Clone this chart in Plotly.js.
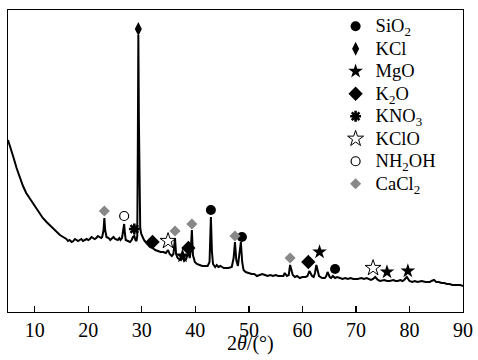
<!DOCTYPE html>
<html>
<head>
<meta charset="utf-8">
<script src="https://cdn.plot.ly/plotly-3.0.1.min.js"></script>
<style>html,body{margin:0;padding:0;background:#fff;}#chart{width:478px;height:360px;}</style>
</head>
<body>
<div id="chart"></div>
<script>
// XRD pattern (2θ in degrees, intensity in arbitrary units)
const twoTheta = [5.0,5.5,6.0,6.6,7.2,7.8,8.4,9.0,9.7,10.3,10.9,11.5,12.2,12.8,13.4,14.0,14.7,15.3,15.9,16.2,16.5,16.9,17.2,17.5,17.8,18.1,18.4,18.7,19.0,19.3,19.7,20.0,20.3,20.6,20.9,21.2,21.5,21.8,22.1,22.4,22.6,22.85,23.0,23.15,23.4,23.8,24.1,24.4,24.7,25.0,25.5,25.8,26.0,26.3,26.5,26.7,26.85,27.0,27.4,27.8,28.1,28.35,28.6,28.8,29.0,29.15,29.25,29.35,29.45,29.55,29.7,29.9,30.1,30.4,30.7,31.0,31.5,32.0,32.5,33.0,33.5,34.0,34.5,34.9,35.2,35.6,35.9,36.2,36.4,36.7,37.0,37.3,37.6,37.9,38.3,38.7,38.95,39.15,39.35,39.55,39.9,40.3,40.8,41.3,41.8,42.3,42.65,42.9,43.1,43.3,43.7,44.0,44.3,44.7,45.0,45.3,45.6,46.2,46.8,47.15,47.4,47.65,47.95,48.2,48.5,48.75,49.0,49.4,50.0,50.5,51.0,51.5,52.0,52.5,53.0,53.5,54.0,54.5,55.0,55.5,56.0,56.45,56.7,57.1,57.45,57.7,58.2,58.6,59.0,59.5,60.0,60.6,60.95,61.3,61.8,62.1,62.35,62.6,63.1,63.7,64.2,64.45,64.7,65.1,65.35,65.7,66.1,66.5,67.0,67.5,68.0,68.5,69.0,69.5,70.3,71.0,71.5,72.0,72.8,73.2,73.6,74.1,74.5,75.3,75.8,76.3,77.0,77.4,77.8,78.3,78.7,79.0,79.5,80.0,80.5,81.0,81.5,82.3,83.0,83.5,83.8,84.1,84.6,85.0,85.5,86.0,86.5,87.0,87.5,88.0,88.5,89.0,89.5,90.0];
const intensity = [172,164,155,144,134,126,119,114,109,104,99,94,90,87,84,80,77,75,73,71,72,70,71,73,72,71,72,73,71,72,73,72,73,75,74,73,74,76,75,74,75,82,94,82,75,74,72,74,75,73,72,74,72,74,80,88,78,72,71,70,72,75,76,72,71,76,162,277,192,102,84,78,75,72,70,68,65,64,62,61,60,60,59,62,58,56,58,74,58,54,53,52,55,51,53,60,54,62,82,57,50,48,47,46,46,46,50,95,60,48,45,47,45,46,45,44,44,44,45,54,70,52,46,56,70,50,42,40,39,38,38,36,37,38,37,36,37,36,37,36,36,36,39,36,37,47,37,35,36,34,35,35,36,41,36,35,39,47,36,34,34,36,40,35,34,36,34,35,34,33,34,33,34,33,33,34,33,34,32,33,35,32,31,32,31,31,32,31,31,32,31,32,35,31,30,31,30,31,30,30,30,31,32,30,30,29,29,28,28,27,27,27,27,26,26,26];

// Phase markers above the peaks
const sio2X = [42.9, 48.7, 66.1],            sio2Y = [102, 75, 43];
const kclX = [29.35],                        kclY = [283];
const mgoX = [37.6, 63.2, 75.8, 79.7],       mgoY = [56, 60, 40, 41];
const k2oX = [32.0, 38.7, 61.1],             k2oY = [70, 64, 50];
const kno3X = [28.6],                        kno3Y = [83];
const kcloX = [34.9, 73.2],                  kcloY = [71, 44];
const nh2ohX = [26.7],                       nh2ohY = [96];
const cacl2X = [23.0, 36.2, 39.35, 47.4, 57.7], cacl2Y = [101, 81, 88, 76, 54];

const xTicks = [10, 20, 30, 40, 50, 60, 70, 80, 90];

const serif = 'Liberation Serif, Times New Roman, serif';
const gray = '#888888';

function lbl(t) { return '<span style="font-size:18.5px">' + t + '</span>'; }

function markers(name, x, y, symbol, size, color, lineW, lineColor) {
  return {
    type: 'scatter', mode: 'markers', name: lbl(name), x: x, y: y,
    marker: {symbol: symbol, size: size, color: color,
             line: {width: lineW, color: lineColor}},
    cliponaxis: false, hoverinfo: 'skip'
  };
}

const traces = [
  {type: 'scatter', mode: 'lines', x: twoTheta, y: intensity,
   line: {color: '#000', width: 2}, showlegend: false, hoverinfo: 'skip'},
  markers('SiO<sub>2</sub>', sio2X, sio2Y, 'circle', 10, '#000', 0, '#000'),
  markers('KCl', kclX, kclY, 'diamond-tall', 10, '#000', 0, '#000'),
  markers('MgO', mgoX, mgoY, 'star', 11, '#000', 0, '#000'),
  markers('K<sub>2</sub>O', k2oX, k2oY, 'diamond', 11, '#000', 0, '#000'),
  markers('KNO<sub>3</sub>', kno3X, kno3Y, 'asterisk', 9, '#000', 2.6, '#000'),
  markers('KClO', kcloX, kcloY, 'star-open', 12, '#000', 1, '#000'),
  markers('NH<sub>2</sub>OH', nh2ohX, nh2ohY, 'circle-open', 9, '#000', 1.2, '#000'),
  markers('CaCl<sub>2</sub>', cacl2X, cacl2Y, 'diamond', 8.5, gray, 0, gray)
];

const layout = {
  width: 478, height: 360,
  margin: {l: 8, r: 15, t: 10, b: 48},
  paper_bgcolor: '#fff', plot_bgcolor: '#fff',
  font: {family: serif, color: '#000', size: 18},
  showlegend: true,
  legend: {x: 0.72, y: 1.0, xanchor: 'left', yanchor: 'top',
           bgcolor: 'rgba(0,0,0,0)', borderwidth: 0,
           font: {family: serif, size: 15, color: '#000'}},
  xaxis: {range: [5, 90], tickvals: xTicks, ticktext: xTicks.map(String),
          ticks: 'inside', ticklen: 6, tickwidth: 1.3, tickcolor: '#000',
          showline: true, linecolor: '#000', linewidth: 1.3, mirror: true,
          showgrid: false, zeroline: false,
          tickfont: {family: serif, size: 20, color: '#000'}},
  yaxis: {range: [0, 302], showticklabels: false, ticks: '',
          showline: true, linecolor: '#000', linewidth: 1.3, mirror: true,
          showgrid: false, zeroline: false},
  annotations: [{xref: 'paper', yref: 'paper', x: 0.534, y: 0,
                 xanchor: 'center', yanchor: 'top', yshift: -18,
                 text: '2<i>θ</i>/(°)', showarrow: false,
                 font: {family: serif, size: 20, color: '#000'}}]
};

Plotly.newPlot('chart', traces, layout, {displayModeBar: false, staticPlot: true});
</script>
</body>
</html>
